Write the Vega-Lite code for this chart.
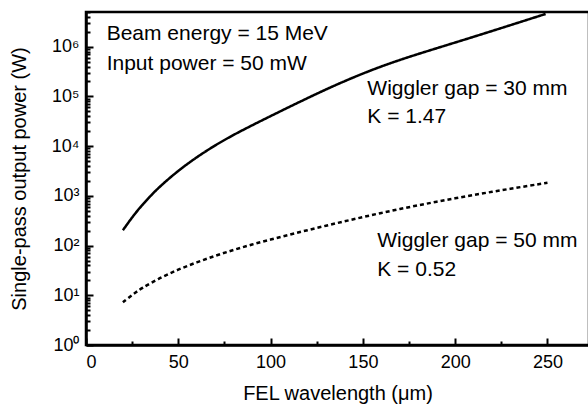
{
  "$schema": "https://vega.github.io/schema/vega-lite/v6.json",
  "width": 503,
  "height": 333,
  "autosize": {"type": "none"},
  "padding": {"left": 86, "top": 12, "right": 0, "bottom": 60},
  "background": "white",
  "config": {
    "font": "Liberation Sans",
    "view": {"stroke": "black", "strokeWidth": 2.5},
    "axis": {
      "zindex": 1,
      "domainColor": "black",
      "domainWidth": 2.5,
      "tickColor": "black",
      "tickWidth": 2,
      "ticks": true,
      "labelColor": "black",
      "labelFont": "Liberation Sans",
      "labelFontSize": 18,
      "titleFont": "Liberation Sans",
      "titleFontSize": 20,
      "titleFontWeight": "normal",
      "titleColor": "black",
      "grid": false,
      "labelOverlap": false,
      "labelBound": false
    }
  },
  "datasets": {
    "curves": [
      {"series": "30 mm", "wavelength": 20, "power": 204},
      {"series": "30 mm", "wavelength": 25, "power": 372},
      {"series": "30 mm", "wavelength": 30, "power": 631},
      {"series": "30 mm", "wavelength": 35, "power": 1000},
      {"series": "30 mm", "wavelength": 40, "power": 1549},
      {"series": "30 mm", "wavelength": 50, "power": 3236},
      {"series": "30 mm", "wavelength": 60, "power": 6026},
      {"series": "30 mm", "wavelength": 70, "power": 10471},
      {"series": "30 mm", "wavelength": 80, "power": 16982},
      {"series": "30 mm", "wavelength": 90, "power": 26303},
      {"series": "30 mm", "wavelength": 100, "power": 40272},
      {"series": "30 mm", "wavelength": 110, "power": 61235},
      {"series": "30 mm", "wavelength": 120, "power": 92683},
      {"series": "30 mm", "wavelength": 130, "power": 138676},
      {"series": "30 mm", "wavelength": 140, "power": 202768},
      {"series": "30 mm", "wavelength": 150, "power": 289734},
      {"series": "30 mm", "wavelength": 160, "power": 402717},
      {"series": "30 mm", "wavelength": 170, "power": 543250},
      {"series": "30 mm", "wavelength": 180, "power": 716143},
      {"series": "30 mm", "wavelength": 190, "power": 933254},
      {"series": "30 mm", "wavelength": 200, "power": 1216186},
      {"series": "30 mm", "wavelength": 210, "power": 1584893},
      {"series": "30 mm", "wavelength": 220, "power": 2074914},
      {"series": "30 mm", "wavelength": 230, "power": 2722701},
      {"series": "30 mm", "wavelength": 240, "power": 3572728},
      {"series": "30 mm", "wavelength": 249, "power": 4570882},
      {"series": "50 mm", "wavelength": 20, "power": 7.24},
      {"series": "50 mm", "wavelength": 25, "power": 10.2},
      {"series": "50 mm", "wavelength": 30, "power": 13.8},
      {"series": "50 mm", "wavelength": 40, "power": 22.4},
      {"series": "50 mm", "wavelength": 50, "power": 33.1},
      {"series": "50 mm", "wavelength": 60, "power": 46.2},
      {"series": "50 mm", "wavelength": 70, "power": 62.4},
      {"series": "50 mm", "wavelength": 80, "power": 82.2},
      {"series": "50 mm", "wavelength": 90, "power": 105.4},
      {"series": "50 mm", "wavelength": 100, "power": 132.7},
      {"series": "50 mm", "wavelength": 110, "power": 165.2},
      {"series": "50 mm", "wavelength": 120, "power": 204.2},
      {"series": "50 mm", "wavelength": 130, "power": 251.2},
      {"series": "50 mm", "wavelength": 140, "power": 307.6},
      {"series": "50 mm", "wavelength": 150, "power": 375.0},
      {"series": "50 mm", "wavelength": 160, "power": 453.9},
      {"series": "50 mm", "wavelength": 170, "power": 544.5},
      {"series": "50 mm", "wavelength": 180, "power": 647.1},
      {"series": "50 mm", "wavelength": 190, "power": 763.8},
      {"series": "50 mm", "wavelength": 200, "power": 895.4},
      {"series": "50 mm", "wavelength": 210, "power": 1042},
      {"series": "50 mm", "wavelength": 220, "power": 1208},
      {"series": "50 mm", "wavelength": 230, "power": 1393},
      {"series": "50 mm", "wavelength": 240, "power": 1600},
      {"series": "50 mm", "wavelength": 250, "power": 1832}
    ],
    "notes": [
      {"label": "Beam energy = 15 MeV", "wavelength": 11.2, "power": 1370000},
      {"label": "Input power = 50 mW", "wavelength": 11.2, "power": 341000},
      {"label": "Wiggler gap = 30 mm", "wavelength": 152.4, "power": 107150},
      {"label": "K = 1.47", "wavelength": 152.4, "power": 29700},
      {"label": "Wiggler gap = 50 mm", "wavelength": 157.8, "power": 95},
      {"label": "K = 0.52", "wavelength": 157.8, "power": 24.8}
    ]
  },
  "encoding": {
    "x": {
      "field": "wavelength",
      "type": "quantitative",
      "title": "FEL wavelength (μm)",
      "scale": {"domain": [0, 272.5], "nice": false, "zero": false},
      "axis": {
        "values": [0, 25, 50, 75, 100, 125, 150, 175, 200, 225, 250],
        "labelExpr": "datum.value % 50 == 0 ? datum.label : ''",
        "tickSize": {"condition": {"test": "datum.value % 50 == 0", "value": -7}, "value": -4},
        "labelPadding": 15,
        "titlePadding": 9
      }
    },
    "y": {
      "field": "power",
      "type": "quantitative",
      "title": "Single-pass output power (W)",
      "scale": {"type": "log", "domain": [1, 5000000], "nice": false},
      "axis": {
        "values": [1,2,3,4,5,6,7,8,9,10,20,30,40,50,60,70,80,90,100,200,300,400,500,600,700,800,900,1000,2000,3000,4000,5000,6000,7000,8000,9000,10000,20000,30000,40000,50000,60000,70000,80000,90000,100000,200000,300000,400000,500000,600000,700000,800000,900000,1000000,2000000,3000000,4000000,5000000],
        "labelExpr": "indexof([1,10,100,1000,10000,100000,1000000], datum.value) >= 0 ? '10' + ['⁰','¹','²','³','⁴','⁵','⁶'][round(log(datum.value)/LN10)] : ''",
        "tickSize": {"condition": {"test": "indexof([1,10,100,1000,10000,100000,1000000], datum.value) >= 0", "value": -7}, "value": -4},
        "labelPadding": 14,
        "titlePadding": 22
      }
    }
  },
  "layer": [
    {
      "data": {"name": "curves"},
      "mark": {"type": "line", "color": "black", "strokeWidth": 2.5, "interpolate": "basis"},
      "encoding": {
        "strokeDash": {
          "field": "series",
          "type": "nominal",
          "scale": {"domain": ["30 mm", "50 mm"], "range": [[1, 0], [4, 3]]},
          "legend": null
        }
      }
    },
    {
      "data": {"name": "notes"},
      "mark": {"type": "text", "align": "left", "baseline": "alphabetic", "fontSize": 21, "font": "Liberation Sans", "color": "black"},
      "encoding": {"text": {"field": "label"}}
    }
  ]
}
